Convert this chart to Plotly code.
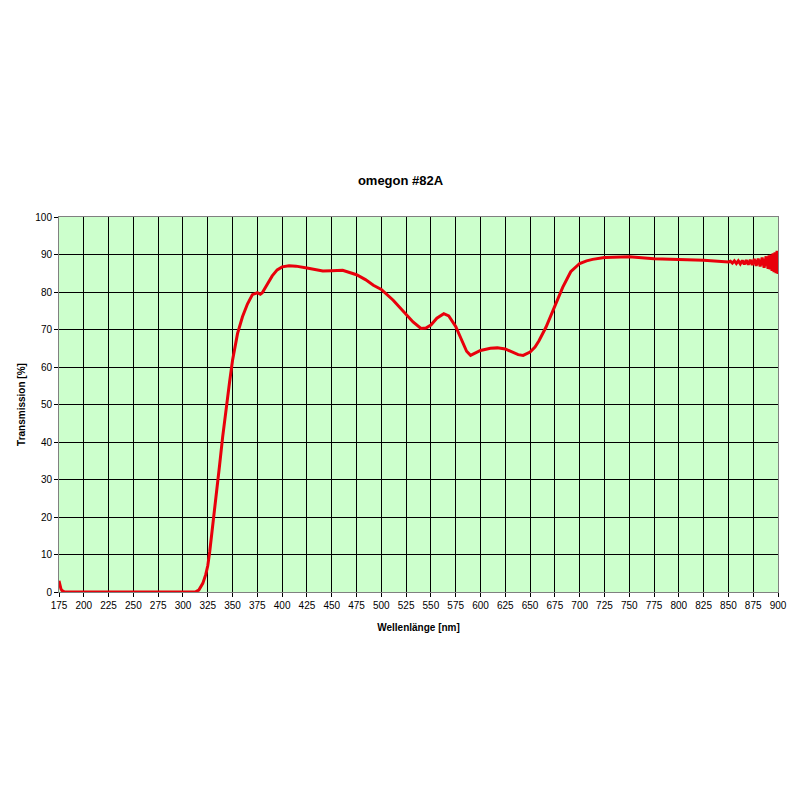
import plotly.graph_objects as go

title_text = "omegon #82A"
x_title = "Wellenlänge [nm]"
y_title = "Transmission [%]"

wavelength = [175, 176, 177, 178, 180, 185, 200, 250, 300, 310, 313, 316, 318, 320, 323, 325, 327, 330,
              333, 337, 340, 343, 347, 350, 355, 360, 365, 370, 375, 378, 380, 384, 390, 395, 400, 407,
              414, 425, 441, 450, 461, 475, 484, 492, 500, 512, 525, 532, 540, 545, 550, 556, 563, 568,
              575, 581, 586, 590, 595, 600, 610, 617, 625, 632, 638, 643, 650, 655, 659, 666, 675, 683,
              691, 700, 707, 713, 725, 740, 750, 775, 800, 825, 850,
              852, 854, 856, 858, 860, 862, 864, 866, 868, 870, 872, 874, 876, 878, 880, 882, 884, 886,
              888, 890, 891, 892, 893, 894, 895, 896, 897, 898, 899, 900]
transmission = [3.0, 1.5, 0.8, 0.4, 0.1, 0.0, 0.0, 0.0, 0.0, 0.0, 0.1, 0.5, 1.3, 2.3, 4.7, 7.0, 10.8, 17.4,
                25.0, 34.0, 41.3, 48.0, 56.0, 61.8, 68.9, 73.4, 76.8, 79.3, 79.8, 79.4, 79.8, 81.6, 84.3, 85.9, 86.7, 87.0,
                86.9, 86.4, 85.6, 85.7, 85.8, 84.6, 83.3, 81.8, 80.7, 77.8, 74.0, 72.0, 70.3, 70.4, 71.2, 73.0, 74.2, 73.6,
                70.8, 67.0, 64.2, 63.1, 63.8, 64.4, 65.0, 65.1, 64.8, 64.0, 63.3, 63.1, 64.0, 65.3, 67.0, 70.6, 76.0, 81.3,
                85.4, 87.6, 88.3, 88.7, 89.2, 89.3, 89.4, 88.9, 88.75, 88.5, 88.0,
                88.2, 87.7, 88.3, 87.6, 88.3, 87.5, 88.4, 87.4, 88.5, 87.3, 88.6, 87.2, 88.8, 87.0, 88.9, 86.8, 89.2, 86.5,
                89.5, 86.2, 89.8, 86.0, 90.0, 85.6, 90.3, 85.3, 90.6, 85.0, 91.0, 84.8]

x_ticks = list(range(175, 901, 25))
y_ticks = list(range(0, 101, 10))

fig = go.Figure()
fig.add_trace(go.Scatter(x=wavelength, y=transmission, mode="lines",
                         line=dict(color="#e8000b", width=3), showlegend=False))

font = dict(family="Liberation Sans, Arial, sans-serif", color="black")

fig.update_layout(
    width=800, height=800,
    paper_bgcolor="white", plot_bgcolor="#ccffcc",
    margin=dict(l=51, r=30, t=209, b=216),
    font=dict(size=10, **font),
    title=dict(text="<b>" + title_text + "</b>", x=392.5 / 800, xanchor="center",
               y=1 - 172 / 800, yanchor="middle", font=dict(size=13, **font)),
)
fig.update_xaxes(
    range=[175, 900], tickvals=x_ticks, ticktext=[str(v) for v in x_ticks],
    showgrid=True, gridcolor="black", gridwidth=1,
    showline=True, linecolor="#808080", linewidth=1, mirror=True,
    ticks="outside", ticklen=4, tickcolor="black",
    tickfont=dict(size=10, **font), zeroline=False, automargin=False,
    title=dict(text="<b>" + x_title + "</b>", font=dict(size=10, **font), standoff=13),
)
fig.update_yaxes(
    range=[0, 100], tickvals=y_ticks,
    showgrid=True, gridcolor="black", gridwidth=1,
    showline=True, linecolor="#808080", linewidth=1, mirror=True,
    ticks="outside", ticklen=4, tickcolor="black",
    tickfont=dict(size=10, **font), zeroline=False, automargin=False,
    title=dict(text="<b>" + y_title + "</b>", font=dict(size=10, **font), standoff=7),
)

fig.write_html("out.html")
